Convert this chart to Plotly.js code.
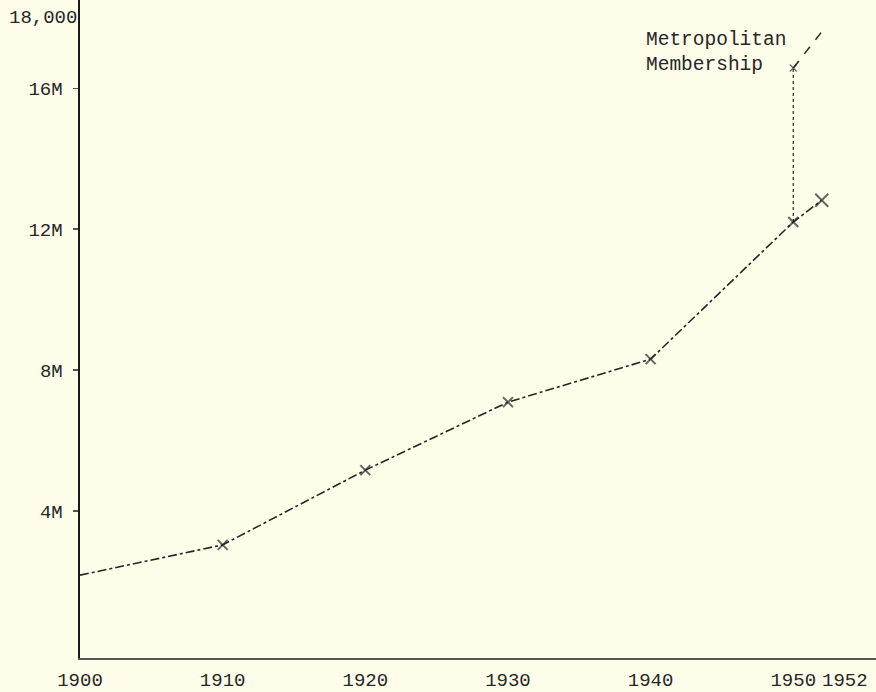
<!DOCTYPE html>
<html>
<head>
<meta charset="utf-8">
<script src="https://cdn.plot.ly/plotly-3.0.1.min.js"></script>
<style>
  html, body { margin: 0; padding: 0; background: #fdfdea; }
  #chart { width: 876px; height: 692px; }
</style>
</head>
<body>
<div id="chart"></div>
<script>
// Total membership
const years = [1900, 1910, 1920, 1930, 1940, 1950, 1952];
const membership = [2180000, 3040000, 5160000, 7090000, 8310000, 12200000, 12820000];

// Metropolitan membership
const metroYears = [1950, 1952];
const metroMembership = [16570000, 17600000];

// Connector at 1950 between the two series
const connectorYears = [1950, 1950];
const connectorValues = [12200000, 16570000];

// Axis ticks
const xTickVals = [1900, 1910, 1920, 1930, 1940, 1950];
const xTickText = ['1900', '1910', '1920', '1930', '1940', '1950'];
const lastYearTick = 1952;
const lastYearText = '1952';
const yTickVals = [4000000, 8000000, 12000000, 16000000];
const yTickText = ['4M', '8M', '12M', '16M'];
const topLabelValue = 18000000;
const topLabelText = '18,000';
const metroLabel = 'Metropolitan<br>Membership';

const ink = '#262626';
const font = 'Liberation Mono, DejaVu Sans Mono, monospace';

const traces = [
  {
    x: years, y: membership, type: 'scatter', mode: 'lines+markers',
    line: { color: ink, width: 1.6, dash: 'dashdot' },
    marker: { symbol: 'x-thin', size: [0, 10, 10, 10, 10, 10, 13], color: ink,
              line: { color: ink, width: 2 } },
    hoverinfo: 'skip', showlegend: false
  },
  {
    x: connectorYears, y: connectorValues, type: 'scatter', mode: 'lines',
    line: { color: ink, width: 1.2, dash: 'dot' },
    hoverinfo: 'skip', showlegend: false
  },
  {
    x: metroYears, y: metroMembership, type: 'scatter', mode: 'lines+markers',
    line: { color: ink, width: 1.5, dash: 'dash' },
    marker: { symbol: 'x-thin', size: [7, 0], color: ink, line: { color: ink, width: 1.2 } },
    hoverinfo: 'skip', showlegend: false
  }
];

const layout = {
  width: 876, height: 692,
  paper_bgcolor: '#fdfdea', plot_bgcolor: '#fdfdea',
  margin: { l: 80, r: 0, t: 0, b: 34 },
  font: { family: font, color: ink, size: 19 },
  xaxis: {
    range: [1900, 1955.8], showgrid: false, zeroline: false,
    showline: true, linecolor: '#555', linewidth: 1.5,
    tickmode: 'array', tickvals: xTickVals, ticktext: xTickText,
    ticks: '', tickangle: 0, ticklabelstandoff: 4,
    tickfont: { family: font, size: 19, color: ink }
  },
  yaxis: {
    range: [-170000, 18500000], showgrid: false, zeroline: false,
    showline: true, linecolor: '#1a1a1a', linewidth: 2.5,
    tickmode: 'array', tickvals: yTickVals, ticktext: yTickText,
    ticks: 'outside', ticklen: 5, tickwidth: 1.2, tickcolor: '#555',
    ticklabelstandoff: 6,
    tickfont: { family: font, size: 19, color: ink }
  },
  annotations: [
    {
      xref: 'paper', yref: 'y', x: 0, y: topLabelValue, xanchor: 'right', yanchor: 'middle',
      xshift: -1, text: topLabelText, showarrow: false,
      font: { family: font, size: 19, color: ink }
    },
    {
      xref: 'x', yref: 'paper', x: lastYearTick, y: 0, xanchor: 'center', yanchor: 'middle',
      xshift: 23, yshift: -23, borderpad: 0, text: lastYearText, showarrow: false,
      font: { family: font, size: 19, color: ink }
    },
    {
      xref: 'paper', yref: 'paper', x: 0.708, y: 0.92, xanchor: 'left', yanchor: 'middle',
      text: metroLabel, align: 'left', showarrow: false,
      font: { family: font, size: 19.5, color: ink }
    }
  ]
};

Plotly.newPlot('chart', traces, layout, { displayModeBar: false, staticPlot: true });
</script>
</body>
</html>
